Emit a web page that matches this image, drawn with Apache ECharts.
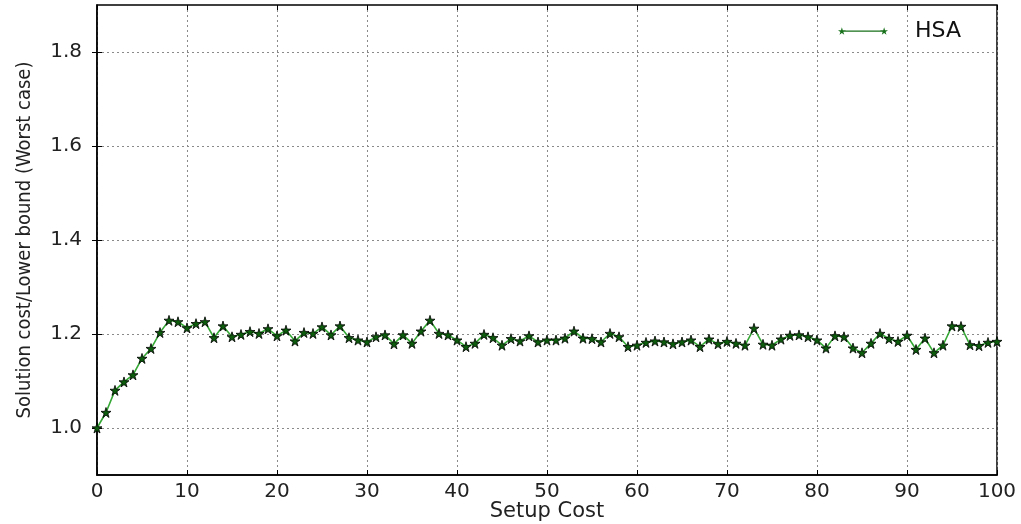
<!DOCTYPE html>
<html><head><meta charset="utf-8">
<script src="https://cdn.jsdelivr.net/npm/echarts@6/dist/echarts.min.js"></script>
<style>html,body{margin:0;padding:0;background:#fff}#c{width:1021px;height:524px}</style>
</head><body><div id="c"></div>
<script>
const setupCost = Array.from({length: 101}, (_, i) => i);
const hsa = [
  1.000, 1.033, 1.080, 1.098, 1.113, 1.148, 1.169, 1.203, 1.229, 1.226,
  1.213, 1.222, 1.226, 1.192, 1.217, 1.194, 1.199, 1.205, 1.201, 1.211,
  1.196, 1.208, 1.185, 1.203, 1.201, 1.215, 1.198, 1.217, 1.192, 1.187,
  1.183, 1.194, 1.198, 1.179, 1.198, 1.180, 1.206, 1.229, 1.201, 1.198,
  1.187, 1.173, 1.180, 1.199, 1.192, 1.176, 1.190, 1.185, 1.196, 1.183,
  1.187, 1.187, 1.191, 1.206, 1.191, 1.190, 1.183, 1.201, 1.194, 1.173,
  1.176, 1.182, 1.185, 1.183, 1.179, 1.183, 1.187, 1.173, 1.189, 1.179,
  1.184, 1.180, 1.176, 1.212, 1.178, 1.176, 1.189, 1.197, 1.198, 1.194,
  1.187, 1.170, 1.196, 1.194, 1.170, 1.160, 1.180, 1.201, 1.190, 1.184,
  1.197, 1.167, 1.191, 1.160, 1.176, 1.217, 1.216, 1.177, 1.175, 1.182,
  1.184
];
const yTicks = [1.0, 1.2, 1.4, 1.6, 1.8];
const xTicks = [0, 10, 20, 30, 40, 50, 60, 70, 80, 90, 100];
const seriesName = 'HSA';
const xTitle = 'Setup Cost';
const yTitle = 'Solution cost/Lower bound (Worst case)';

const star = 'path://M50,0 L61,35 L98,35 L68,57 L79,91 L50,70 L21,91 L32,57 L2,35 L39,35 Z';
const legendIcon = 'path://M8,0 L9.8,5.6 L15.7,5.6 L10.9,9.1 L12.7,14.5 L8,11.2 L3.3,14.5 L5.1,9.1 L0.3,5.6 L6.2,5.6 Z ' +
  'M92,0 L93.8,5.6 L99.7,5.6 L94.9,9.1 L96.7,14.5 L92,11.2 L87.3,14.5 L89.1,9.1 L84.3,5.6 L90.2,5.6 Z ' +
  'M10,6.5 L90,6.5 L90,8.7 L10,8.7 Z';
const gridLine = {show: true, lineStyle: {color: '#8a8a8a', type: [2, 3], width: 1}};
const axisFont = {fontFamily: 'DejaVu Sans', fontSize: 20, color: '#222'};

const chart = echarts.init(document.getElementById('c'), null, {renderer: 'canvas'});
chart.setOption({
  animation: false,
  backgroundColor: '#fff',
  grid: {left: 97, right: 24, top: 5, bottom: 49, outerBoundsMode: 'none', containLabel: false,
         show: true, borderColor: '#000', borderWidth: 1.5, backgroundColor: 'transparent'},
  legend: {
    left: 833, top: 15, itemWidth: 50, itemHeight: 8, itemGap: 10,
    icon: legendIcon,
    itemStyle: {color: '#17701a', borderWidth: 0},
    textStyle: {fontFamily: 'DejaVu Sans', fontSize: 22, color: '#111', padding: [0, 0, 0, 22]},
    data: [{name: seriesName}]
  },
  xAxis: [{
    type: 'value', min: 0, max: 100, interval: 10,
    name: xTitle, nameLocation: 'middle', nameGap: 26, nameMoveOverlap: false,
    nameTextStyle: {fontFamily: 'DejaVu Sans', fontSize: 21, color: '#222'},
    axisLine: {show: true, lineStyle: {color: '#000', width: 1.5}},
    axisTick: {show: true, inside: true, length: 5, customValues: xTicks, lineStyle: {color: '#000'}},
    axisLabel: Object.assign({margin: 7, customValues: xTicks}, axisFont),
    splitLine: gridLine
  }, {
    type: 'value', min: 0, max: 100, interval: 10, position: 'top',
    axisLine: {show: false},
    axisTick: {show: true, inside: true, length: 5, customValues: xTicks, lineStyle: {color: '#000'}},
    axisLabel: {show: false}, splitLine: {show: false}
  }],
  yAxis: [{
    type: 'value', min: 0.9, max: 1.9, interval: 0.1,
    name: yTitle, nameLocation: 'middle', nameGap: 62, nameRotate: 90, nameMoveOverlap: false,
    nameTextStyle: {fontFamily: 'DejaVu Sans Condensed', fontSize: 20, color: '#222'},
    axisLine: {show: true, lineStyle: {color: '#000', width: 1.5}},
    axisTick: {show: true, inside: true, length: 5, customValues: yTicks, lineStyle: {color: '#000'}},
    axisLabel: Object.assign({margin: 15, customValues: yTicks, formatter: v => v.toFixed(1)}, axisFont),
    splitLine: gridLine
  }, {
    type: 'value', min: 0.9, max: 1.9, interval: 0.1, position: 'right',
    axisLine: {show: false},
    axisTick: {show: true, inside: true, length: 5, customValues: yTicks, lineStyle: {color: '#000'}},
    axisLabel: {show: false}, splitLine: {show: false}
  }],
  series: [{
    name: seriesName, type: 'line',
    data: setupCost.map((x, i) => [x, hsa[i]]),
    symbol: star, symbolSize: 10, showAllSymbol: true,
    lineStyle: {color: '#35a835', width: 1.6},
    itemStyle: {color: '#0d5c0d', borderColor: '#000', borderWidth: 0.8},
    emphasis: {disabled: true}
  }]
});
</script></body></html>
